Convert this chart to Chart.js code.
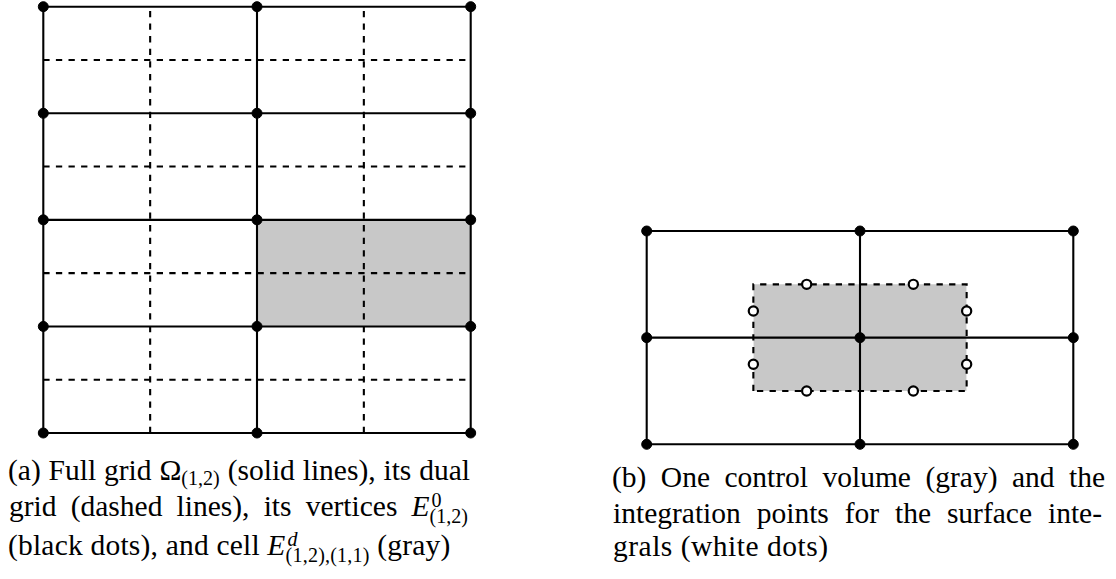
<!DOCTYPE html>
<html>
<head>
<meta charset="utf-8">
<script src="https://cdn.jsdelivr.net/npm/chart.js@4.4.1/dist/chart.umd.min.js"></script>
<style>
  html, body { margin: 0; padding: 0; background: #fff; }
  body { width: 1116px; height: 579px; position: relative; overflow: hidden; }
  canvas { position: absolute; }
  #gridA { left: 0; top: 0; }
  #gridB { left: 600px; top: 200px; }
  .cap {
    position: absolute;
    font-family: "Liberation Serif", "DejaVu Serif", serif;
    font-size: 29.5px;
    line-height: 34px;
    color: #000;
    white-space: nowrap;
    z-index: 2;
  }
  .just { text-align: justify; text-align-last: justify; }
  .sub1 { font-size: 0.68em; vertical-align: -4.5px; line-height: 0; }
  .stack {
    display: inline-flex;
    flex-direction: column;
    font-size: 0.68em;
    line-height: 16px;
    vertical-align: 9px;
  }
  .stack > span { display: block; }
  .stack > .sup { padding-left: 2px; }
  i { font-style: italic; }
</style>
</head>
<body>
<canvas id="gridA" width="480" height="445"></canvas>
<canvas id="gridB" width="516" height="260"></canvas>

<div class="cap just" style="left:8px; width:462px; top:453px;">(a) Full grid Ω<span class="sub1">(1,2)</span> (solid lines), its dual</div>
<div class="cap just" style="left:9px; width:459px; top:489px;">grid (dashed lines), its vertices <i>E</i><span class="stack"><span class="sup">0</span><span>(1,2)</span></span></div>
<div class="cap" style="left:8px; top:528px; letter-spacing:0.2px;">(black dots), and cell <i>E</i><span class="stack"><span class="sup"><i>d</i></span><span>(1,2),(1,1)</span></span> (gray)</div>

<div class="cap just" style="left:612px; width:493px; top:460px;">(b) One control volume (gray) and the</div>
<div class="cap just" style="left:613px; width:489px; top:496px;">integration points for the surface inte-</div>
<div class="cap" style="left:613px; top:529px; letter-spacing:0.5px;">grals (white dots)</div>

<script>
// (a) Full grid Omega_(1,2) on the unit square: mesh widths 1/2 in x, 1/4 in y
const fullGridX = [0, 0.5, 1];
const fullGridY = [0, 0.25, 0.5, 0.75, 1];
// dual grid lines through the cell midpoints
const dualGridX = [0.25, 0.75];
const dualGridY = [0.125, 0.375, 0.625, 0.875];
// highlighted cell E^d_(1,2),(1,1)
const cellX = [0.5, 1];
const cellY = [0.25, 0.5];

// (b) patch of 2x2 cells around one interior vertex
const patchX = [0, 0.5, 1];
const patchY = [0, 0.25, 0.5];
// control volume around the centre vertex
const volumeX = [0.25, 0.75];
const volumeY = [0.125, 0.375];
// integration points on the control volume boundary
const quadX = [0.375, 0.625, 0.25, 0.75, 0.25, 0.75, 0.375, 0.625];
const quadY = [0.375, 0.375, 0.3125, 0.3125, 0.1875, 0.1875, 0.125, 0.125];

const INK = '#000';
const GRAY = '#c8c8c8';
const DASH = [6.3, 6.3];
const LINE_W = 2.1;

function segment(p, q, dashed, order) {
  return {
    data: [p, q],
    showLine: true,
    borderColor: INK,
    borderWidth: LINE_W,
    borderDash: dashed ? DASH : [],
    pointRadius: 0,
    fill: false,
    clip: false,
    order: order
  };
}

function gridLines(xs, ys, x0, x1, y0, y1, dashed, order) {
  const out = [];
  xs.forEach(x => out.push(segment({x: x, y: y0}, {x: x, y: y1}, dashed, order)));
  ys.forEach(y => out.push(segment({x: x0, y: y}, {x: x1, y: y}, dashed, order)));
  return out;
}

function shadedBox(xs, ys, order) {
  return {
    data: [{x: xs[0], y: ys[1]}, {x: xs[1], y: ys[1]}],
    showLine: true,
    borderColor: 'transparent',
    borderWidth: 0,
    pointRadius: 0,
    backgroundColor: GRAY,
    fill: {value: ys[0]},
    clip: false,
    order: order
  };
}

function vertices(xs, ys, order) {
  const pts = [];
  ys.forEach(y => xs.forEach(x => pts.push({x: x, y: y})));
  return {
    data: pts,
    showLine: false,
    pointRadius: 5,
    pointBorderWidth: 1,
    pointBackgroundColor: INK,
    pointBorderColor: INK,
    clip: false,
    order: order
  };
}

function makeChart(id, xRange, yRange, padding, datasets) {
  return new Chart(document.getElementById(id), {
    type: 'scatter',
    data: { datasets: datasets },
    options: {
      responsive: false,
      maintainAspectRatio: false,
      animation: false,
      events: [],
      layout: { padding: padding },
      plugins: { legend: { display: false }, tooltip: { enabled: false } },
      scales: {
        x: { type: 'linear', display: false, min: xRange[0], max: xRange[1] },
        y: { type: 'linear', display: false, min: yRange[0], max: yRange[1] }
      }
    }
  });
}

// (a)
const datasetsA = [].concat(
  [shadedBox(cellX, cellY, 5)],
  gridLines(dualGridX, dualGridY, 0, 1, 0, 1, true, 3),
  gridLines(fullGridX, fullGridY, 0, 1, 0, 1, false, 2),
  [vertices(fullGridX, fullGridY, 0)]
);
makeChart('gridA', [0, 1], [0, 1],
  { left: 43.3, right: 9.3, top: 6.7, bottom: 12 }, datasetsA);

// (b)
const boxEdge = {
  data: [
    {x: volumeX[0], y: volumeY[0]}, {x: volumeX[0], y: volumeY[1]},
    {x: volumeX[1], y: volumeY[1]}, {x: volumeX[1], y: volumeY[0]},
    {x: volumeX[0], y: volumeY[0]}
  ],
  showLine: true,
  borderColor: INK,
  borderWidth: LINE_W,
  borderDash: DASH,
  pointRadius: 0,
  fill: false,
  clip: false,
  order: 2
};
const quadPoints = {
  data: quadX.map((x, i) => ({x: x, y: quadY[i]})),
  showLine: false,
  pointRadius: 4.6,
  pointBorderWidth: 2.2,
  pointBackgroundColor: '#fff',
  pointBorderColor: INK,
  clip: false,
  order: 0
};
const datasetsB = [].concat(
  [shadedBox(volumeX, volumeY, 5)],
  gridLines(patchX, patchY, 0, 1, 0, 0.5, false, 3),
  [boxEdge],
  [vertices(patchX, patchY, 1)],
  [quadPoints]
);
makeChart('gridB', [0, 1], [0, 0.5],
  { left: 46.7, right: 42.7, top: 31, bottom: 15.7 }, datasetsB);
</script>
</body>
</html>
